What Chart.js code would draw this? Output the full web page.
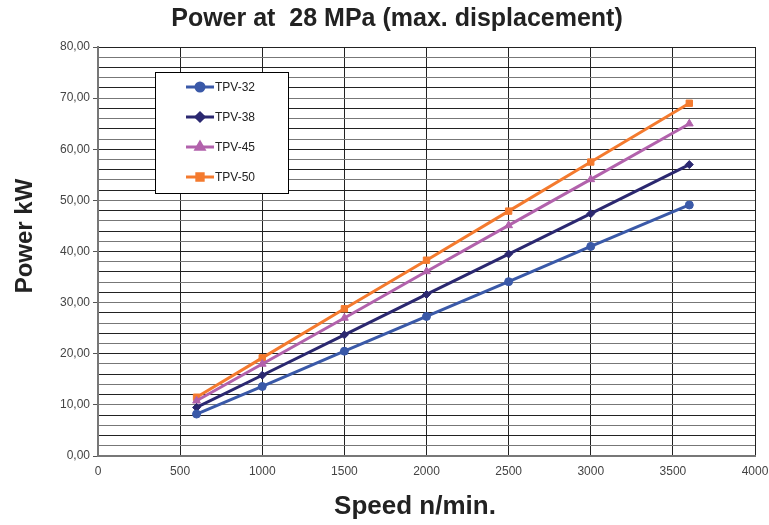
<!DOCTYPE html>
<html>
<head>
<title>Power at 28 MPa</title>
<script src="https://cdn.jsdelivr.net/npm/chart.js"></script>
<style>
  body { margin: 0; background: #fff; }
  #wrap { width: 769px; height: 525px; }
</style>
</head>
<body>
<div id="wrap"><canvas id="powerChart"></canvas></div>
<script>
// speeds (n/min) and power (kW)
const speeds = [600, 1000, 1500, 2000, 2500, 3000, 3600];
const tpv32 = [8.2, 13.6, 20.5, 27.3, 34.1, 41.0, 49.1];
const tpv38 = [9.5, 15.8, 23.7, 31.6, 39.5, 47.4, 57.0];
const tpv45 = [10.8, 18.0, 27.0, 36.1, 45.1, 54.1, 65.0];
const tpv50 = [11.5, 19.2, 28.8, 38.3, 47.9, 57.5, 69.0];
const seriesNames = ["TPV-32", "TPV-38", "TPV-45", "TPV-50"];
const chartTitle = "Power at  28 MPa (max. displacement)";
const xTitle = "Speed n/min.";
const yTitle = "Power kW";

const FONT = "Arial, 'Liberation Sans', sans-serif";

function pts(vals) {
    return speeds.map((s, i) => ({ x: s, y: vals[i] }));
}

function makeSet(label, vals, color, style, radius) {
    return {
        label: label,
        data: pts(vals),
        borderColor: color,
        backgroundColor: color,
        borderWidth: 3,
        pointStyle: style,
        pointRadius: radius,
        pointHoverRadius: radius,
        pointBorderWidth: 1,
        tension: 0
    };
}

// titles placed where the original has them (not centred on the plot)
const titles = {
    id: "titles",
    afterDraw(chart) {
        const ctx = chart.ctx;
        ctx.save();
        ctx.fillStyle = "#222";
        ctx.textAlign = "center";
        ctx.textBaseline = "middle";
        ctx.font = "bold 25px " + FONT;
        ctx.fillText(chartTitle, 397, 19);
        ctx.font = "bold 26px " + FONT;
        ctx.fillText(xTitle, 415, 507);
        ctx.translate(25, 236);
        ctx.rotate(-Math.PI / 2);
        ctx.font = "bold 24px " + FONT;
        ctx.fillText(yTitle, 0, 0);
        ctx.restore();
    }
};

// legend drawn inside the plot like the original box
const boxLegend = {
    id: "boxLegend",
    afterDraw(chart) {
        const ctx = chart.ctx;
        const x0 = 155, y0 = 72, w = 133, h = 121;
        ctx.save();
        ctx.fillStyle = "#fff";
        ctx.fillRect(x0, y0, w, h);
        ctx.strokeStyle = "#000";
        ctx.lineWidth = 1;
        ctx.strokeRect(x0 + 0.5, y0 + 0.5, w, h);
        chart.data.datasets.forEach((ds, i) => {
            const y = 87 + i * 30;
            ctx.strokeStyle = ds.borderColor;
            ctx.lineWidth = 3;
            ctx.beginPath();
            ctx.moveTo(186, y);
            ctx.lineTo(214, y);
            ctx.stroke();
            ctx.fillStyle = ds.backgroundColor;
            Chart.helpers.drawPoint(ctx, {
                pointStyle: ds.pointStyle,
                radius: ds.pointRadius,
                borderWidth: 1,
                rotation: 0
            }, 200, y);
            ctx.fillStyle = "#222";
            ctx.font = "12px " + FONT;
            ctx.textBaseline = "middle";
            ctx.fillText(ds.label, 215, y + 1);
        });
        ctx.restore();
    }
};

new Chart(document.getElementById("powerChart"), {
    type: "line",
    data: {
        datasets: [
            makeSet(seriesNames[0], tpv32, "#3A59A8", "circle", 4),
            makeSet(seriesNames[1], tpv38, "#2B2870", "rectRot", 4),
            makeSet(seriesNames[2], tpv45, "#B262AC", "triangle", 4.5),
            makeSet(seriesNames[3], tpv50, "#F47A2E", "rect", 4.5)
        ]
    },
    options: {
        responsive: true,
        maintainAspectRatio: false,
        animation: false,
        layout: { padding: { top: 47, right: 14, left: 0, bottom: 0 } },
        plugins: {
            legend: { display: false },
            tooltip: { enabled: false },
            title: { display: false }
        },
        scales: {
            x: {
                type: "linear",
                min: 0,
                max: 4000,
                ticks: {
                    stepSize: 500,
                    color: "#444",
                    font: { family: FONT, size: 12 },
                    padding: 8,
                    callback: v => String(v)
                },
                grid: { color: "#222", lineWidth: 1, drawTicks: false },
                border: { color: "#777", width: 2 },
                afterFit: s => { s.height = 69; s.paddingRight = 0; s.paddingLeft = 0; }
            },
            y: {
                min: 0,
                max: 80,
                ticks: {
                    stepSize: 2,
                    autoSkip: false,
                    color: "#444",
                    font: { family: FONT, size: 12 },
                    padding: 3,
                    callback: v => (v % 10 === 0 ? v.toFixed(2).replace(".", ",") : "")
                },
                grid: {
                    color: c => (c.index % 2 === 0 ? "#222" : "#777"),
                    tickColor: c => (c.tick && c.tick.value % 10 === 0 ? "#555" : "rgba(0,0,0,0)"),
                    tickLength: 5,
                    lineWidth: 1
                },
                border: { color: "#777", width: 2 },
                afterFit: s => { s.width = 98; s.paddingTop = 0; s.paddingBottom = 0; }
            }
        }
    },
    plugins: [boxLegend, titles]
});
</script>
</body>
</html>
